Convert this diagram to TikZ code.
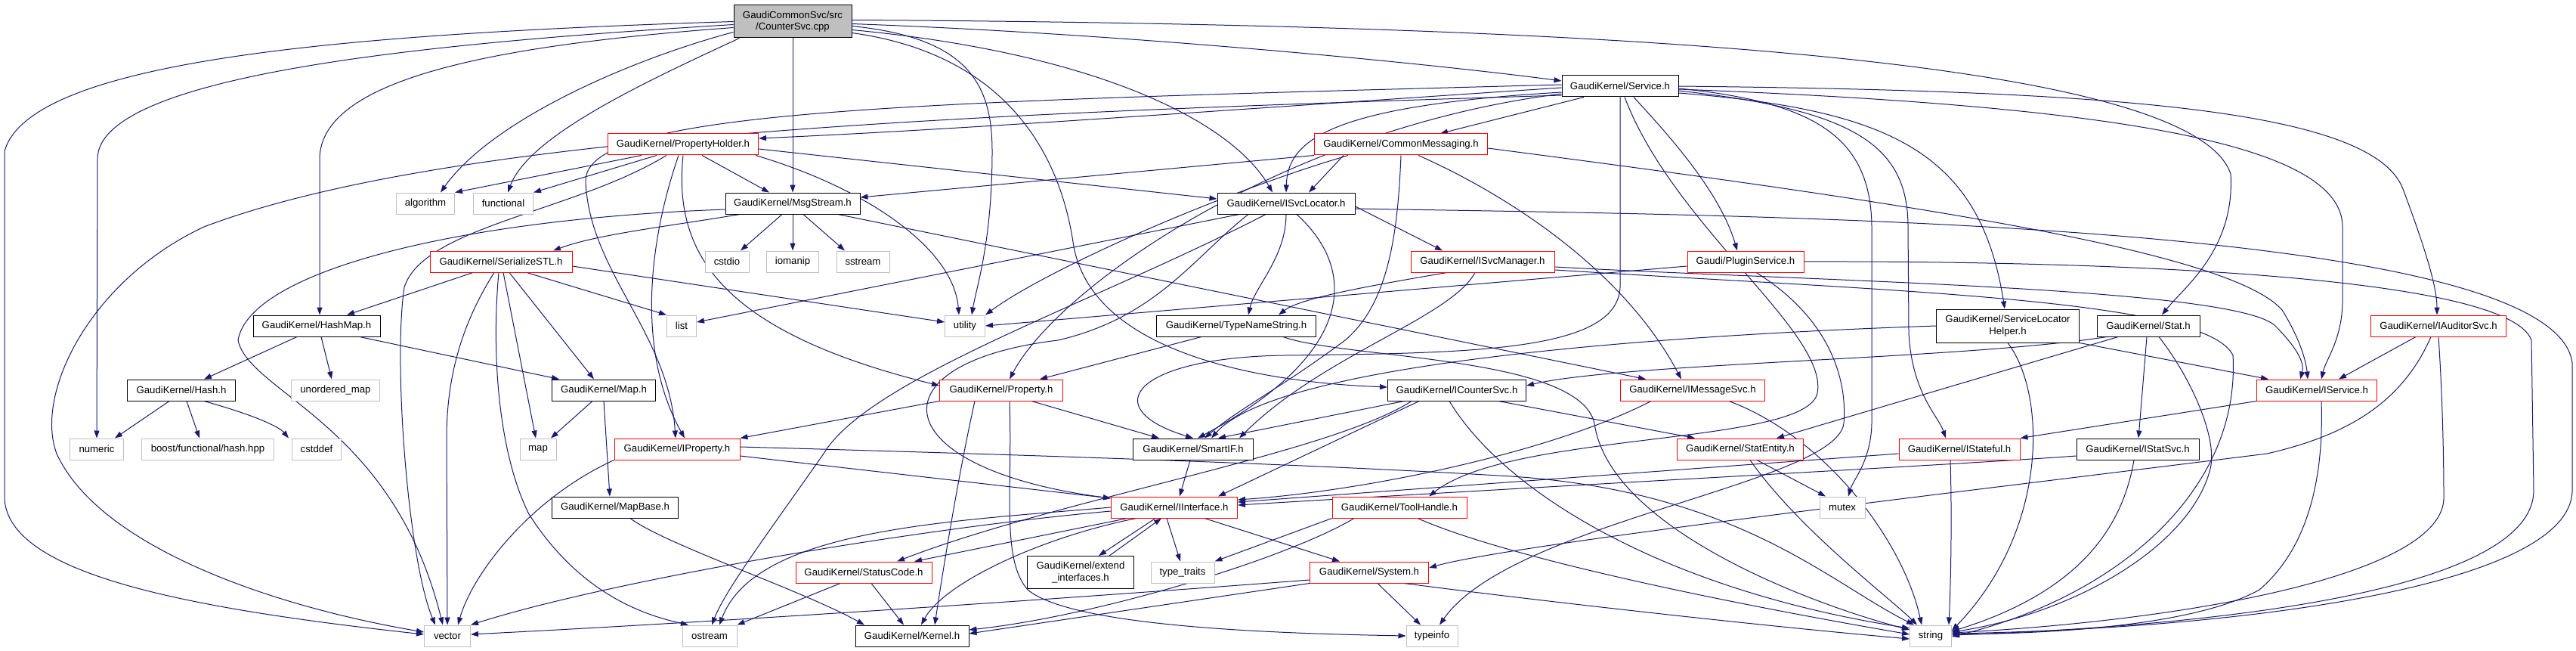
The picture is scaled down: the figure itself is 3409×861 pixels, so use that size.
\documentclass[tikz,border=0pt]{standalone}
\usepackage{fontspec}
\setmainfont{Liberation Sans}
\usetikzlibrary{arrows.meta}
\pgfdeclarelayer{bg}
\pgfsetlayers{bg,main}
\definecolor{edgec}{HTML}{191970}
\definecolor{gborder}{HTML}{BFBFBF}
\newcommand{\nodefont}{\fontsize{13.2}{15.5}\selectfont}
\tikzset{
  nd/.style={draw, fill=white, line width=1pt, minimum height=28pt, inner sep=0pt, font=\nodefont, align=center},
  nb/.style={nd, draw=black, minimum width=#1},
  nr/.style={nd, draw=red, minimum width=#1},
  ng/.style={nd, draw=gborder, minimum width=#1},
  e/.style={draw=edgec, line width=1pt, -{Triangle[length=10pt,width=7pt]}}
}
\begin{document}
\begin{tikzpicture}[x=1pt,y=-1pt]
\useasboundingbox (0,0) rectangle (3409,861);
% nodes
\node[nd, draw=black, fill=gborder, minimum width=156pt, minimum height=43pt] (root) at (1049,28.5) {GaudiCommonSvc/src\\/CounterSvc.cpp};
\node[nb=154pt] (svc) at (2144,114) {GaudiKernel/Service.h};
\node[nr=199pt] (ph) at (904,191) {GaudiKernel/PropertyHolder.h};
\node[nr=229pt] (cm) at (1854,191) {GaudiKernel/CommonMessaging.h};
\node[ng=77pt] (alg) at (563,269) {algorithm};
\node[ng=79pt] (func) at (666,269) {functional};
\node[nb=178pt] (msg) at (1049,269) {GaudiKernel/MsgStream.h};
\node[nb=182pt] (isl) at (1702,269) {GaudiKernel/ISvcLocator.h};
\node[nr=188pt] (ss) at (663,346) {GaudiKernel/SerializeSTL.h};
\node[ng=58pt] (cstdio) at (962,346) {cstdio};
\node[ng=69pt] (ioman) at (1049,346) {iomanip};
\node[ng=70pt] (sstr) at (1142,346) {sstream};
\node[nr=190pt] (ism) at (1962,346) {GaudiKernel/ISvcManager.h};
\node[nr=154pt] (plug) at (2310,346) {Gaudi/PluginService.h};
\node[nb=168pt] (hm) at (419,431) {GaudiKernel/HashMap.h};
\node[ng=39pt] (list) at (902,431) {list};
\node[ng=53pt] (util) at (1277,431) {utility};
\node[nb=211pt] (tns) at (1636,431) {GaudiKernel/TypeNameString.h};
\node[nb=189pt, minimum height=44pt] (slh) at (2657,431) {GaudiKernel/ServiceLocator\\Helper.h};
\node[nb=136pt] (stat) at (2843,431) {GaudiKernel/Stat.h};
\node[nr=179pt] (ias) at (3227,431) {GaudiKernel/IAuditorSvc.h};
\node[nb=143pt] (hash) at (240,516) {GaudiKernel/Hash.h};
\node[ng=117pt] (umap) at (444,516) {unordered\_map};
\node[nb=137pt] (mapk) at (799,516) {GaudiKernel/Map.h};
\node[nr=163pt] (prop) at (1325,516) {GaudiKernel/Property.h};
\node[nb=183pt] (ics) at (1928,516) {GaudiKernel/ICounterSvc.h};
\node[nr=191pt] (ims) at (2240,516) {GaudiKernel/IMessageSvc.h};
\node[nr=159pt] (isrv) at (3066,516) {GaudiKernel/IService.h};
\node[ng=71pt] (numeric) at (128,594) {numeric};
\node[ng=175pt] (boost) at (275,594) {boost/functional/hash.hpp};
\node[ng=65pt] (cstddef) at (419,594) {cstddef};
\node[ng=48pt] (map) at (712,594) {map};
\node[nr=166pt] (iprop) at (896,594) {GaudiKernel/IProperty.h};
\node[nb=159pt] (smart) at (1579,594) {GaudiKernel/SmartIF.h};
\node[nr=167pt] (sent) at (2303,594) {GaudiKernel/StatEntity.h};
\node[nr=160pt] (istf) at (2593,594) {GaudiKernel/IStateful.h};
\node[nb=162pt] (istat) at (2829,594) {GaudiKernel/IStatSvc.h};
\node[nb=167pt] (mapbase) at (814,671) {GaudiKernel/MapBase.h};
\node[nr=167pt] (iint) at (1554,671) {GaudiKernel/IInterface.h};
\node[nr=178pt] (tool) at (1852,671) {GaudiKernel/ToolHandle.h};
\node[ng=60pt] (mutex) at (2438,671) {mutex};
\node[nr=180pt] (sc) at (1143,757) {GaudiKernel/StatusCode.h};
\node[nb=141pt, minimum height=43pt] (ext) at (1430,757) {GaudiKernel/extend\\\_interfaces.h};
\node[ng=84pt] (tt) at (1565,757) {type\_traits};
\node[nr=157pt] (sys) at (1812,757) {GaudiKernel/System.h};
\node[ng=61pt] (vector) at (592,841) {vector};
\node[ng=72pt] (ostream) at (939,841) {ostream};
\node[nb=150pt] (kernel) at (1207,841) {GaudiKernel/Kernel.h};
\node[ng=68pt] (typeinfo) at (1895,841) {typeinfo};
\node[ng=55pt] (string) at (2555,841) {string};

\begin{pgfonlayer}{bg}
% root
\draw[e] (root.west) .. controls (450,45) and (40,80) .. (6,200) -- (6,660) .. controls (12,760) and (250,805) .. ([yshift=2pt]vector.west);
\draw[e] ([yshift=-4pt]root.west) .. controls (600,55) and (130,95) .. (129,210) -- (numeric.north);
\draw[e] ([yshift=-8pt]root.west) .. controls (650,60) and (424,105) .. (423,210) -- ([xshift=4pt]hm.north);
\draw[e] ([yshift=-14pt]root.west) .. controls (830,80) and (650,160) .. ([xshift=20pt]alg.north);
\draw[e] ([xshift=8pt]root.south west) .. controls (850,110) and (700,180) .. ([xshift=6pt]func.north);
\draw[e] (root.south) -- (msg.north);
\draw[e] ([yshift=-6pt]root.east) .. controls (1280,50) and (1313,110) .. (1313,200) .. controls (1313,320) and (1292,380) .. ([xshift=9pt]util.north);
\draw[e] ([yshift=-11pt]root.east) .. controls (1450,70) and (1630,160) .. ([xshift=-18pt]isl.north);
\draw[e] ([yshift=-3pt]root.east) .. controls (1500,45) and (1900,85) .. ([yshift=7pt]svc.west);
\draw[e] ([yshift=2pt]root.east) .. controls (2100,32) and (2900,75) .. (2952,230) .. controls (2958,330) and (2890,380) .. ([xshift=18pt]stat.north);
\draw[e] ([yshift=-15pt]root.east) .. controls (1320,70) and (1400,190) .. (1420,320) .. controls (1440,460) and (1650,505) .. ([yshift=4pt]ics.west);
% Service
\draw[e] ([yshift=-2pt]svc.west) .. controls (1700,140) and (1300,170) .. ([yshift=8pt]ph.east);
\draw[e] ([xshift=-48pt]svc.south) -- ([xshift=52pt]cm.north);
\draw[e] ([yshift=-8pt]svc.west) .. controls (1760,140) and (1704,185) .. (isl.north);
\draw[e] ([yshift=-10pt]svc.west) .. controls (1700,170) and (1400,380) .. ([xshift=11pt]prop.north);
\draw[e] ([yshift=2pt]svc.west) .. controls (1200,135) and (772,145) .. (775,240) .. controls (780,360) and (885,440) .. ([xshift=-2pt]iprop.north);
\draw[e] ([yshift=-12pt]svc.west) .. controls (1300,150) and (600,175) .. (270,300) .. controls (120,370) and (45,520) .. (75,600) .. controls (130,720) and (350,800) .. ([yshift=5pt]vector.west);
\draw[e] ([xshift=18pt]svc.south) .. controls (2200,170) and (2275,250) .. ([xshift=-11pt]plug.north);
\draw[e] (svc.south) -- (2144,380) .. controls (2140,465) and (1950,467) .. (1700,470) .. controls (1500,473) and (1450,540) .. (smart.north);
\draw[e] ([xshift=6pt]svc.south) .. controls (2215,300) and (2420,440) .. (2405,520) .. controls (2390,590) and (2000,570) .. ([xshift=39pt]tool.north);
\draw[e] ([yshift=-3pt]svc.east) .. controls (2400,135) and (2476,180) .. (2477,300) -- (2477,560) .. controls (2476,610) and (2452,635) .. ([xshift=8pt]mutex.north);
\draw[e] ([yshift=-6pt]svc.east) .. controls (2450,145) and (2525,190) .. (2525,300) -- (2526,440) .. controls (2530,520) and (2565,550) .. ([xshift=-18pt]istf.north);
\draw[e] ([yshift=-9pt]svc.east) .. controls (2500,145) and (2620,200) .. ([xshift=-4pt]slh.north);
\draw[e] (svc.east) .. controls (2800,120) and (3140,145) .. (3180,250) .. controls (3210,330) and (3225,380) .. ([xshift=-2pt]ias.north);
\draw[e] ([yshift=-4pt]svc.east) .. controls (2800,140) and (3100,190) .. (3100,300) -- (3100,400) .. controls (3099,450) and (3078,475) .. ([xshift=6pt]isrv.north);
% PropertyHolder
\draw[e] ([xshift=-55pt]ph.south) -- (alg.north east);
\draw[e] ([xshift=-35pt]ph.south) -- (func.north east);
\draw[e] ([xshift=-22pt]ph.south) .. controls (760,280) and (560,300) .. (535,380) .. controls (520,480) and (540,740) .. ([xshift=-16pt]vector.north);
\draw[e] ([xshift=25pt]ph.south) -- ([xshift=-31pt]msg.north);
\draw[e] ([yshift=-6pt]ph.east) -- ([yshift=6pt]isl.west);
\draw[e] ([xshift=96pt]ph.south) .. controls (1150,250) and (1262,330) .. ([xshift=-8pt]util.north);
\draw[e] (ph.south) .. controls (890,340) and (960,440) .. ([yshift=6pt]prop.west);
\draw[e] ([xshift=-6pt]ph.south) .. controls (855,330) and (845,470) .. ([xshift=10pt]iprop.north);
% CommonMessaging
\draw[e] (cm.south west) -- ([yshift=8pt]msg.east);
\draw[e] ([xshift=-76pt]cm.south) -- ([xshift=30pt]isl.north);
\draw[e] ([xshift=-70pt]cm.south) .. controls (1600,260) and (1380,360) .. (util.north east);
\draw[e] ([xshift=23pt]cm.south) .. controls (2000,260) and (2150,360) .. ([xshift=-15pt]ims.north);
\draw[e] ([yshift=-5pt]cm.east) .. controls (2500,265) and (2950,330) .. (3020,410) .. controls (3045,450) and (3052,480) .. ([xshift=-12pt]isrv.north);
\draw[e] (cm.south) .. controls (1850,300) and (1840,400) .. (1780,450) .. controls (1700,510) and (1640,540) .. ([xshift=15pt]smart.north);
% MsgStream
\draw[e] ([xshift=-14pt]msg.south) -- ([xshift=18pt]cstdio.north);
\draw[e] (msg.south) -- (ioman.north);
\draw[e] ([xshift=14pt]msg.south) -- ([xshift=-24pt]sstr.north);
\draw[e] ([xshift=-70pt]msg.south) .. controls (880,300) and (790,310) .. ([xshift=69pt]ss.north);
\draw[e] ([xshift=60pt]msg.south) -- ([xshift=34pt]ims.north west);
\draw[e] ([yshift=-8pt]msg.west) .. controls (600,290) and (330,360) .. (315,450) .. controls (330,520) and (520,560) .. ([xshift=-6pt]vector.north);
% ISvcLocator
\draw[e] ([xshift=-62pt]isl.south) -- ([yshift=5pt]list.east);
\draw[e] (isl.south) .. controls (1702,340) and (1660,380) .. ([xshift=16pt]tns.north);
\draw[e] ([yshift=-4pt]isl.east) -- ([xshift=-53pt]ism.north);
\draw[e] ([xshift=14pt]isl.south) .. controls (1800,360) and (1790,470) .. ([xshift=6pt]smart.north);
\draw[e] ([yshift=-7pt]isl.east) .. controls (2300,285) and (3380,290) .. (3404,480) -- (3404,650) .. controls (3400,770) and (3000,830) .. ([yshift=3pt]string.east);
\draw[e] ([xshift=-27pt]isl.south) .. controls (1450,400) and (1150,500) .. (1090,600) .. controls (1020,700) and (960,780) .. ([xshift=3pt]ostream.north);
\draw[e] ([xshift=-50pt]isl.south) .. controls (1580,340) and (1530,420) .. (1400,450) .. controls (1150,480) and (1170,620) .. ([yshift=12pt]iint.west);
% ISvcManager
\draw[e] ([yshift=-7pt]ism.east) .. controls (2400,372) and (2950,380) .. (3010,430) .. controls (3040,460) and (3050,480) .. ([xshift=-22pt]isrv.north);
\draw[e] ([yshift=-11pt]ism.east) .. controls (2500,385) and (2920,395) .. (2955,470) .. controls (2965,650) and (2800,790) .. ([yshift=-1pt]string.east);
\draw[e] ([xshift=-47pt]ism.south) .. controls (1800,380) and (1720,395) .. ([xshift=56pt]tns.north);
\draw[e] ([xshift=-10pt]ism.south) .. controls (1920,420) and (1750,470) .. ([xshift=61pt]smart.north);
% PluginService
\draw[e] (plug.east) .. controls (2800,345) and (3320,365) .. (3350,450) -- (3353,650) .. controls (3350,770) and (3000,825) .. ([yshift=1pt]string.east);
\draw[e] ([yshift=-6pt]plug.west) -- (util.east);
\draw[e] ([xshift=14pt]plug.south) .. controls (2420,420) and (2445,500) .. (2440,560) .. controls (2430,640) and (2000,690) .. ([xshift=10pt]typeinfo.north);
% HashMap
\draw[e] ([xshift=-26pt]hm.south) -- ([xshift=30pt]hash.north);
\draw[e] ([xshift=6pt]hm.south) -- ([xshift=-5pt]umap.north);
\draw[e] ([xshift=57pt]hm.south) -- ([xshift=-59pt]mapk.north);
% Hash
\draw[e] ([xshift=-16pt]hash.south) -- ([xshift=24pt]numeric.north);
\draw[e] ([xshift=7pt]hash.south) -- ([xshift=-11pt]boost.north);
\draw[e] ([xshift=30pt]hash.south) .. controls (340,550) and (370,565) .. ([xshift=-37pt]cstddef.north);
% Map, MapBase
\draw[e] ([xshift=-15pt]mapk.south) -- ([xshift=17pt]map.north);
\draw[e] (mapk.south) -- ([xshift=-7pt]mapbase.north);
\draw[e] ([xshift=20pt]mapbase.south) .. controls (880,720) and (1060,780) .. ([xshift=-63pt]kernel.north);
% SerializeSTL
\draw[e] ([xshift=-37pt]ss.south) -- ([xshift=40pt]hm.north);
\draw[e] ([xshift=-9pt]ss.south) .. controls (610,430) and (591,500) .. (591,580) -- (vector.north);
\draw[e] ([xshift=-3pt]ss.south) .. controls (650,470) and (660,600) .. (700,680) .. controls (770,790) and (860,815) .. ([xshift=-28pt]ostream.north);
\draw[e] ([xshift=3pt]ss.south) -- ([xshift=-3pt]map.north);
\draw[e] ([xshift=11pt]ss.south) -- ([xshift=-13pt]mapk.north);
\draw[e] ([xshift=34pt]ss.south) -- (list.north west);
\draw[e] ([yshift=-6pt]ss.east) -- ([yshift=5pt]util.west);
% TypeNameString
\draw[e] ([xshift=-46pt]tns.south) -- ([xshift=51pt]prop.north);
\draw[e] ([xshift=62pt]tns.south) .. controls (1780,475) and (2090,470) .. (2110,560) .. controls (2130,700) and (2400,800) .. ([yshift=8pt]string.west);
% Property
\draw[e] (prop.south west) -- (iprop.north east);
\draw[e] ([xshift=40pt]prop.south) -- ([xshift=-45pt]smart.north);
\draw[e] ([xshift=-35pt]prop.south) .. controls (1270,620) and (1250,740) .. ([xshift=30pt]kernel.north);
\draw[e] ([xshift=11pt]prop.south) .. controls (1340,650) and (1325,740) .. (1360,780) .. controls (1420,830) and (1700,838) .. (typeinfo.west);
% ICounterSvc
\draw[e] ([xshift=55pt]ics.south) -- ([xshift=-60pt]sent.north);
\draw[e] ([xshift=-50pt]ics.south) -- ([xshift=58pt]iint.north);
\draw[e] ([xshift=-70pt]ics.south) -- ([xshift=33pt]smart.north);
\draw[e] ([xshift=-60pt]ics.south) .. controls (1760,600) and (1400,660) .. ([xshift=44pt]sc.north);
\draw[e] ([xshift=-10pt]ics.south) .. controls (1990,650) and (2200,780) .. ([yshift=10pt]string.west);
% IMessageSvc
\draw[e] ([xshift=48pt]ims.south) .. controls (2420,580) and (2520,720) .. ([xshift=-12pt]string.north);
\draw[e] ([xshift=-55pt]ims.south) .. controls (2050,600) and (1800,650) .. ([yshift=10pt]iint.east);
% ServiceLocatorHelper
\draw[e] (slh.south east) -- ([xshift=-64pt]isrv.north);
\draw[e] (slh.south) .. controls (2708,520) and (2712,700) .. ([yshift=7pt]string.east);
\draw[e] (slh.west) .. controls (2300,440) and (1700,470) .. ([xshift=24pt]smart.north);
% Stat
\draw[e] ([xshift=-2pt]stat.south) -- ([xshift=1pt]istat.north);
\draw[e] ([xshift=14pt]stat.south) .. controls (2900,500) and (2935,580) .. (2925,620) .. controls (2900,720) and (2750,810) .. ([yshift=5pt]string.east);
\draw[e] ([xshift=-40pt]stat.south) -- ([xshift=48pt]sent.north);
\draw[e] ([xshift=-55pt]stat.south) .. controls (2600,475) and (2150,480) .. ([yshift=6pt]ics.east);
% IAuditorSvc
\draw[e] ([xshift=-30pt]ias.south) -- ([xshift=29pt]isrv.north);
\draw[e] ([xshift=-10pt]ias.south) .. controls (3180,530) and (3110,575) .. (3000,600) .. controls (2600,650) and (2000,720) .. ([yshift=6pt]sys.east);
\draw[e] (ias.south) .. controls (3232,520) and (3234,600) .. (3234,660) .. controls (3230,760) and (2900,820) .. ([yshift=4pt]string.east);
% IService
\draw[e] (isrv.south west) -- (istf.north east);
\draw[e] ([xshift=6pt]isrv.south) .. controls (3075,620) and (3060,720) .. (2990,780) .. controls (2900,830) and (2700,838) .. ([yshift=2pt]string.east);
% IStateful
\draw[e] ([xshift=-12pt]istf.south) .. controls (2583,680) and (2582,760) .. ([xshift=24pt]string.north);
\draw[e] ([yshift=-6pt]istf.west) -- ([yshift=7pt]iint.east);
% IStatSvc
\draw[e] ([yshift=-9pt]istat.west) .. controls (2600,614) and (2100,640) .. ([yshift=3pt]iint.east);
\draw[e] ([xshift=-5pt]istat.south) .. controls (2810,690) and (2760,780) .. ([yshift=6pt]string.east);
% StatEntity
\draw[e] ([xshift=22pt]sent.south) -- ([xshift=-22pt]mutex.north);
\draw[e] ([xshift=13pt]sent.south) .. controls (2380,700) and (2500,790) .. ([xshift=-18pt]string.north);
% ToolHandle
\draw[e] ([xshift=24pt]tool.south) .. controls (2000,740) and (2300,800) .. ([yshift=2pt]string.west);
\draw[e] (tool.south west) -- (tt.north east);
\draw[e] ([xshift=-60pt]tool.south) .. controls (1700,740) and (1450,815) .. ([yshift=8pt]kernel.east);
% IInterface
\draw[e] ([xshift=-25pt]iint.south) -- ([xshift=24pt]ext.north);
\draw[e] ([xshift=38pt]ext.north) -- ([xshift=-17pt]iint.south);
\draw[e] ([xshift=-10pt]iint.south) -- ([xshift=-3pt]tt.north);
\draw[e] ([xshift=40pt]iint.south) -- ([xshift=-39pt]sys.north);
\draw[e] ([xshift=-62pt]iint.south) -- ([xshift=67pt]sc.north);
\draw[e] ([xshift=-50pt]iint.south) .. controls (1380,710) and (1250,770) .. ([xshift=12pt]kernel.north);
\draw[e] (iint.west) .. controls (1250,690) and (1000,700) .. ([xshift=13pt]ostream.north);
\draw[e] ([yshift=-5pt]iint.west) .. controls (1200,700) and (800,770) .. (vector.north east);
% SmartIF
\draw[e] ([xshift=-4pt]smart.south) -- ([xshift=7pt]iint.north);
% StatusCode
\draw[e] ([xshift=-31pt]sc.south) -- (ostream.north east);
\draw[e] ([xshift=10pt]sc.south) -- ([xshift=-11pt]kernel.north);
% System
\draw[e] ([xshift=11pt]sys.south) -- ([xshift=-15pt]typeinfo.north);
\draw[e] ([xshift=46pt]sys.south) .. controls (2000,790) and (2300,825) .. ([yshift=-4pt]string.west);
\draw[e] (sys.south west) -- ([yshift=3pt]kernel.east);
\draw[e] ([yshift=-10pt]sys.west) .. controls (1300,800) and (900,825) .. ([yshift=2pt]vector.east);
% IProperty
\draw[e] (iprop.south west) .. controls (700,660) and (625,760) .. ([xshift=14pt]vector.north);
\draw[e] ([yshift=-9pt]iprop.east) -- ([yshift=12pt]iint.west);
\draw[e] ([yshift=3pt]iprop.east) .. controls (1300,600) and (1700,612) .. (2000,630) .. controls (2300,650) and (2420,770) .. ([xshift=-22pt]string.north);
\end{pgfonlayer}
\end{tikzpicture}
\end{document}
